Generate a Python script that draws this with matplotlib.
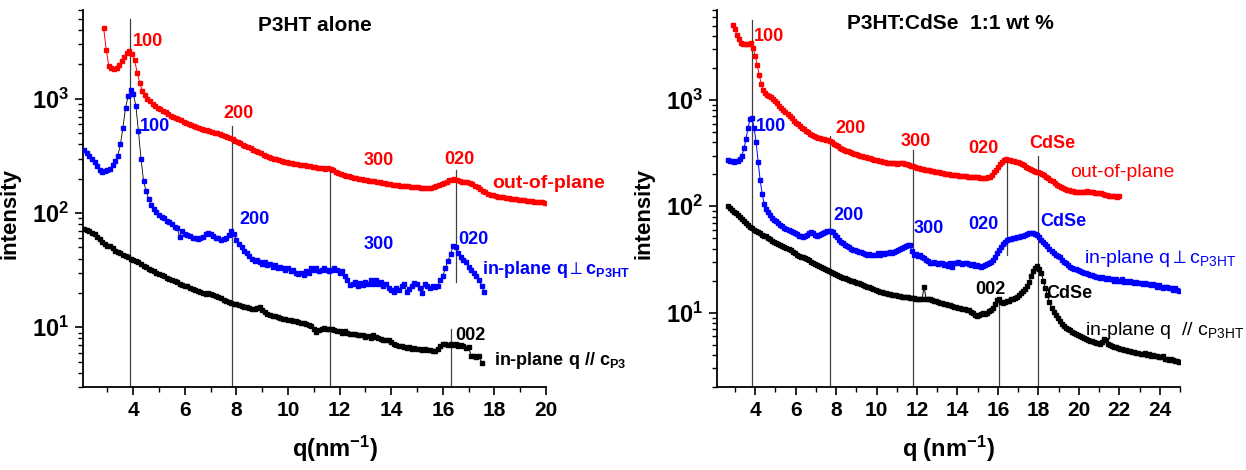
## GIWAXS line cuts: P3HT alone vs P3HT:CdSe blend

import numpy as np
import matplotlib
matplotlib.use('Agg')
import matplotlib.pyplot as plt
from matplotlib.ticker import MultipleLocator, LogLocator, NullFormatter

plt.rcParams['font.family'] = ['Liberation Sans', 'DejaVu Sans']
plt.rcParams['mathtext.fontset'] = 'custom'
plt.rcParams['mathtext.rm'] = 'Liberation Sans'
plt.rcParams['mathtext.bf'] = 'Liberation Sans:bold'
plt.rcParams['mathtext.it'] = 'Liberation Sans:italic'
plt.rcParams['mathtext.fallback'] = 'stixsans'

## Data (q grid: start + 0.1 steps)
q_step = 0.1

# P3HT alone, out-of-plane
left_red_q0 = 2.85
left_red = [4200, 2700, 1950, 1860, 1840, 1880, 1980, 2150, 2350, 2520, 2600, 2450, 2200, 1700, 1380,
            1180, 1080, 1000, 950, 905, 870, 840, 810, 785, 760, 735, 715, 700, 680, 665, 650, 632, 615,
            600, 590, 578, 565, 555, 545, 538, 530, 522, 512, 505, 498, 490, 482, 472, 462, 455, 445,
            432, 420, 408, 398, 388, 378, 368, 358, 350, 340, 333, 325, 318, 312, 305, 300, 295, 290,
            286, 282, 278, 275, 272, 270, 268, 266, 264, 261, 258, 256, 254, 252, 250, 248, 246, 245,
            246, 242, 236, 230, 225, 221, 217, 213, 210, 207, 204, 202, 200, 198, 196, 194, 192, 191,
            190, 188, 186, 184, 182, 180, 179, 177, 176, 175, 174, 173, 172, 171, 170, 170, 169, 168,
            167, 167, 166, 166, 167, 169, 172, 175, 179, 184, 189, 193, 196, 197, 195, 192, 189, 187,
            186, 184, 180, 174, 168, 162, 157, 152, 148, 145, 143, 141, 139, 138, 137, 136, 135, 134,
            133, 132, 131, 130, 129, 128, 128, 127, 126, 125, 125, 124, 123]

# P3HT alone, in-plane q perpendicular to c
left_blue_q0 = 2.1
left_blue = [360, 335, 315, 300, 280, 258, 238, 230, 232, 236, 245, 262, 285, 315, 400, 560, 840, 1050,
             1200, 1110, 870, 520, 300, 190, 155, 132, 118, 108, 102, 97, 93, 90, 86, 84, 80, 76, 74,
             62, 70, 66, 64, 63, 60, 61, 59, 60, 62, 66, 67, 66, 63, 61, 60, 58, 59, 61, 64, 70, 66,
             58, 54, 50, 47, 45, 42, 40, 38, 39, 37, 36, 37, 35, 36, 34, 35, 33, 34, 33, 32, 33, 31,
             32, 30, 29, 30, 28.5, 31, 30, 33, 32, 33, 31, 32, 33, 32, 31, 32, 33, 32, 30, 31, 28, 26,
             23.5, 24, 25, 23, 24.5, 23.5, 25, 24, 26, 24, 26, 24, 25, 23, 24, 22, 21, 20.5, 22, 21,
             23, 24, 20.5, 21.5, 23, 24.5, 24, 22, 20, 24, 23, 22, 23, 22.5, 23, 26, 28, 33, 38, 44,
             51, 50, 45, 41, 39, 37, 34, 32, 30, 28, 26, 23, 20.5]

# P3HT alone, in-plane q parallel to c
left_black_q0 = 2.1
left_black = [73, 71, 70, 67, 65, 62, 59, 56, 54, 52, 51, 49, 47, 46, 45, 43, 42, 41, 40, 39, 38, 37,
              35.5, 34.5, 33.5, 32.5, 31.8, 31, 30, 29.5, 28.5, 28, 27, 26.5, 26, 25.3, 24.7, 24, 23.6,
              23.2, 22.8, 22.3, 21.8, 21.4, 20.8, 20.3, 19.8, 19.6, 19.9, 19.4, 19, 18.7, 18.5, 18,
              17.5, 17.1, 16.8, 16.4, 16.1, 15.9, 15.7, 15.5, 15.2, 15, 14.8, 14.6, 14.4, 14.8, 15.2,
              14.2, 13.6, 13.2, 12.9, 12.6, 12.5, 12.3, 12.1, 11.9, 11.8, 11.6, 11.5, 11.3, 11.3, 11.1,
              11.0, 10.8, 10.6, 10.4, 10.2, 9.6, 9.1, 9.5, 9.7, 9.8, 9.7, 9.75, 9.6, 9.5, 9.3, 9.2, 9.0,
              9.3, 8.9, 8.8, 8.7, 8.8, 8.6, 8.5, 8.5, 8.3, 8.4, 8.1, 8.6, 8.2, 8.0, 7.9, 7.8, 7.7, 7.7,
              7.5, 7.2, 7.0, 6.9, 6.8, 6.7, 6.6, 6.7, 6.5, 6.6, 6.4, 6.5, 6.3, 6.4, 6.3, 6.3, 6.2, 6.2,
              6.4, 6.9, 7.2, 7.1, 7.0, 7.2, 7.0, 7.1, 6.9, 7.0, 6.8, 6.6, 6.7, 5.6, 5.6, 5.5, 5.6, 4.9]

# P3HT:CdSe, out-of-plane
right_red_q0 = 2.9
right_red = [5100, 4600, 4100, 3700, 3450, 3350, 3330, 3350, 3350, 3400, 3100, 2600, 2150, 1720, 1420,
             1250, 1170, 1120, 1085, 1060, 1020, 975, 930, 885, 840, 806, 770, 735, 700, 670, 640, 612,
             590, 568, 548, 528, 510, 495, 482, 470, 460, 450, 442, 436, 430, 426, 422, 418, 414, 400,
             388, 376, 366, 356, 348, 340, 334, 328, 322, 316, 312, 308, 304, 300, 296, 293, 290, 286,
             282, 278, 274, 270, 267, 264, 261, 258, 256, 255, 254, 255, 253, 252, 253, 254, 253, 251,
             248, 244, 240, 237, 234, 231, 228, 225, 223, 221, 219, 217, 215, 213, 211, 210, 208, 206,
             204, 202, 200, 199, 198, 197, 196, 195, 194, 193, 192, 191, 190, 190, 189, 188, 188, 187,
             186, 185, 185, 186, 187, 190, 198, 208, 220, 234, 248, 260, 270, 276, 274, 270, 268, 266,
             262, 258, 254, 248, 242, 236, 230, 224, 218, 213, 210, 208, 205, 200, 195, 190, 185, 178,
             171, 165, 160, 156, 152, 149, 146, 143, 141, 139, 138, 137, 136, 136, 135, 136, 137, 138,
             137, 136, 135, 134, 133, 133, 132, 130, 128, 127, 126, 125, 124, 124, 123, 125]

# P3HT:CdSe, in-plane q perpendicular to c
right_blue_q0 = 2.65
right_blue = [275, 268, 264, 262, 264, 268, 280, 300, 350, 430, 550, 660, 680, 540, 400, 260, 175, 130,
              105, 94, 88, 82, 78, 75, 72, 69, 67, 65, 63, 61, 60, 58, 57, 56, 55, 53, 52, 51, 52, 54,
              56, 57, 56, 54, 53, 54, 55, 56, 57, 58, 59, 59, 57, 54, 51, 48, 46, 45, 43, 42, 41, 40,
              39, 38.5, 38, 37.5, 37, 36, 35.5, 35, 35.5, 34.5, 35, 35, 36, 35, 36, 35.5, 36.5, 36, 37,
              36.5, 37.5, 38, 39, 39.5, 40.5, 41, 42, 43.5, 43, 38, 35, 35.5, 34, 34.5, 33.5, 32.5, 31,
              30.5, 29.5, 29, 30, 29, 28.5, 29.5, 29, 28, 28.5, 27.5, 29, 27, 29.5, 29, 30, 29.5, 28.5,
              29, 29.5, 28.5, 28, 28.5, 27.5, 28, 27.5, 27, 27.5, 28, 28.5, 29, 30, 31.5, 33.5, 36,
              38.5, 41.5, 44, 46.5, 48, 49, 49.5, 50, 50.5, 51, 51.5, 52, 53, 54, 55, 55.5, 56, 55.5,
              55, 54, 51, 48.5, 46, 44, 42, 40, 38, 36.5, 35, 34, 33, 31.5, 30, 29, 28, 27, 26.5, 26,
              25.5, 25, 24.5, 24, 23.5, 23.5, 23, 22.5, 22.5, 22, 21.5, 21.5, 21, 21.5, 21, 20.5, 21,
              20.5, 20.5, 20, 20.5, 20, 20, 20.5, 19.5, 20, 19.5, 20, 19.5, 19, 19.5, 19, 19, 18.5, 19,
              18.5, 18.5, 18, 18.5, 18, 17.5, 18, 17.5, 17, 17.5, 17.5, 17, 17, 16.5, 17, 16.5, 16]

# P3HT:CdSe, in-plane q parallel to c
right_black_q0 = 2.65
right_black = [100, 96, 92, 89, 86, 83, 80, 76, 73, 70, 67, 64, 62, 60, 58.5, 57, 55.5, 54, 53, 52,
               50.5, 49, 47.5, 46.5, 45.5, 44.5, 43.5, 42.5, 41.5, 40.5, 39.5, 38.5, 37.5, 36.5, 35,
               34.2, 33.5, 33, 32.3, 31.6, 31, 30.2, 29.5, 28.8, 28.2, 27.5, 26.8, 26.2, 25.6, 25, 24.5,
               24, 23.5, 23, 22.6, 22.2, 21.8, 21.4, 21.1, 20.8, 20.4, 20, 19.7, 19.4, 19.1, 18.8, 18.5,
               18.2, 17.9, 17.6, 17.3, 17, 16.7, 16.4, 16.1, 15.8, 15.6, 15.4, 15.2, 15.1, 15, 14.8,
               14.7, 14.5, 14.4, 14.2, 14.1, 14, 14, 13.9, 13.8, 13.7, 13.7, 13.5, 13.4, 13.4, 13.3,
               17.5, 13.5, 13.4, 13.3, 13.2, 13, 12.8, 12.6, 12.4, 12.2, 12.1, 12, 11.9, 11.8, 11.6,
               11.4, 11.2, 11.1, 11, 10.9, 10.8, 10.7, 10.5, 10.2, 10, 9.6, 9.3, 9.6, 9.8, 9.9, 9.8, 9.9,
               10.3, 10.6, 11.1, 12, 13.2, 13.5, 12.6, 12.2, 12.5, 12.8, 13, 13.3, 13.5, 13.7, 14, 14.6,
               15.3, 16, 16.8, 17.8, 19.5, 22, 24.5, 26.5, 27.5, 26, 23.5, 20, 17, 14.5, 12.5, 11, 10.2,
               9.5, 8.9, 8.3, 7.9, 7.5, 7.2, 7, 6.8, 6.6, 6.4, 6.3, 6.1, 6, 5.9, 5.8, 5.6, 5.5, 5.4, 5.4,
               5.3, 5.2, 5.2, 5.1, 5.3, 5.7, 5.5, 5.1, 5, 4.9, 4.8, 4.8, 4.7, 4.6, 4.6, 4.5, 4.5, 4.4,
               4.4, 4.3, 4.3, 4.2, 4.2, 4.1, 4.1, 4.2, 4, 4.1, 3.9, 4, 3.9, 3.9, 3.8, 3.8, 3.9, 3.7, 3.7,
               3.6, 3.7, 3.6, 3.5, 3.5, 3.4]

# Reflection marker lines: q position, top and bottom intensity
left_lines_q = [3.88, 7.82, 11.62, 16.5, 16.32]
left_lines_top = [5000, 580, 255, 238, 9.7]
left_lines_bottom = [3, 3, 3, 25, 3]
right_lines_q = [3.84, 7.68, 11.82, 16.47, 18.0, 16.06]
right_lines_top = [5600, 460, 340, 275, 295, 13.7]
right_lines_bottom = [2, 2, 2, 35, 2, 2]


def q_grid(q0, values):
    return q0 + q_step * np.arange(len(values))


def style_axis(ax, xmin, xmax, ymin, ymax, xmaj_max):
    ax.set_yscale('log')
    ax.set_xlim(xmin, xmax)
    ax.set_ylim(ymin, ymax)
    ax.spines['top'].set_visible(False)
    ax.spines['right'].set_visible(False)
    for s in ('left', 'bottom'):
        ax.spines[s].set_linewidth(1.3)
    ax.xaxis.set_minor_locator(MultipleLocator(1))
    ax.set_xticks(np.arange(4, xmaj_max + 1, 2))
    ax.set_xticklabels([str(v) for v in np.arange(4, xmaj_max + 1, 2)], fontsize=15, fontweight='bold')
    ax.set_yticks([10, 100, 1000])
    ax.set_yticklabels([r'$\mathbf{10^{1}}$', r'$\mathbf{10^{2}}$', r'$\mathbf{10^{3}}$'], fontsize=17)
    ax.yaxis.set_minor_locator(LogLocator(base=10, subs=np.arange(2, 10)))
    ax.yaxis.set_minor_formatter(NullFormatter())
    ax.tick_params(which='major', direction='out', length=6, width=1.2, pad=4)
    ax.tick_params(which='minor', direction='out', length=3.5, width=1.0)
    ax.set_ylabel('intensity', fontsize=16, fontweight='bold')
    ax.yaxis.set_label_coords(-0.135, 0.46)


fig = plt.figure(figsize=(12.46, 4.7), dpi=100)
ax1 = fig.add_axes([0.0666, 0.1766, 0.3716, 0.8021])
ax2 = fig.add_axes([0.5752, 0.1766, 0.3718, 0.8021])

ms = 3.5

## Left: P3HT alone
for q, top, bot in zip(left_lines_q, left_lines_top, left_lines_bottom):
    ax1.plot([q, q], [bot, top], color='0.25', lw=0.9, zorder=1)
ax1.plot(q_grid(left_red_q0, left_red), left_red, 's-', color='red', ms=ms, lw=0.7, zorder=3)
ax1.plot(q_grid(left_blue_q0, left_blue), left_blue, '-', color='k', lw=0.6, zorder=2)
ax1.plot(q_grid(left_blue_q0, left_blue), left_blue, 's', color='blue', ms=ms, zorder=3)
ax1.plot(q_grid(left_black_q0, left_black), left_black, 's-', color='black', ms=ms, lw=0.7, zorder=3)
style_axis(ax1, 2.05, 20, 3, 6000, 20)
ax1.set_xlabel(r'q(nm$^{\mathbf{-1}}$)', fontsize=17, fontweight='bold')
ax1.xaxis.set_label_coords(0.545, -0.125)
ax1.text(0.5, 0.96, 'P3HT alone', transform=ax1.transAxes, ha='center', va='center',
         fontsize=15, fontweight='bold')

bold = dict(fontsize=13, fontweight='bold', va='center')
ax1.text(4.0, 3200, '100', color='red', ha='left', **bold)
ax1.text(8.09, 740, '200', color='red', ha='center', **bold)
ax1.text(13.51, 287, '300', color='red', ha='center', **bold)
ax1.text(16.63, 296, '020', color='red', ha='center', **bold)
ax1.text(17.93, 182, 'out-of-plane', color='red', ha='left', va='center', fontsize=14, fontweight='bold')
ax1.text(4.24, 578, '100', color='blue', ha='left', **bold)
ax1.text(8.1, 88, '200', color='blue', ha='left', **bold)
ax1.text(13.51, 52.7, '300', color='blue', ha='center', **bold)
ax1.text(16.6, 58.5, '020', color='blue', ha='left', **bold)
ax1.text(17.5, 29.3, r'in-plane q$\perp$c$_{\mathbf{P3HT}}$', color='blue', ha='left', va='baseline',
         fontsize=13, fontweight='bold')
ax1.text(16.47, 8.5, '002', color='black', ha='left', **bold)
ax1.text(18.0, 4.7, r'in-plane q // c$_{\mathbf{P3}}$', color='black', ha='left', va='baseline',
         fontsize=13, fontweight='bold')

## Right: P3HT:CdSe blend
for q, top, bot in zip(right_lines_q, right_lines_top, right_lines_bottom):
    ax2.plot([q, q], [bot, top], color='0.25', lw=0.9, zorder=1)
ax2.plot(q_grid(right_red_q0, right_red), right_red, 's-', color='red', ms=ms, lw=0.7, zorder=3)
ax2.plot(q_grid(right_blue_q0, right_blue), right_blue, 's-', color='blue', ms=ms, lw=0.7, zorder=3)
ax2.plot(q_grid(right_black_q0, right_black), right_black, 's-', color='black', ms=ms, lw=0.7, zorder=3)
style_axis(ax2, 2.1, 25, 2, 7000, 24)
ax2.set_xlabel(r'q (nm$^{\mathbf{-1}}$)', fontsize=17, fontweight='bold')
ax2.xaxis.set_label_coords(0.501, -0.125)
ax2.text(0.504, 0.964, 'P3HT:CdSe  1:1 wt %', transform=ax2.transAxes, ha='center', va='center',
         fontsize=15, fontweight='bold')

ax2.text(3.92, 3930, '100', color='red', ha='left', **bold)
ax2.text(7.95, 542, '200', color='red', ha='left', **bold)
ax2.text(11.2, 406, '300', color='red', ha='left', **bold)
ax2.text(14.54, 349, '020', color='red', ha='left', **bold)
ax2.text(17.54, 392, 'CdSe', color='red', ha='left', **bold)
ax2.text(19.56, 208, 'out-of-plane', color='red', ha='left', va='center', fontsize=14)
ax2.text(4.05, 562, '100', color='blue', ha='left', **bold)
ax2.text(7.87, 81.8, '200', color='blue', ha='left', **bold)
ax2.text(11.82, 62, '300', color='blue', ha='left', **bold)
ax2.text(14.54, 67, '020', color='blue', ha='left', **bold)
ax2.text(18.1, 72, 'CdSe', color='blue', ha='left', **bold)
ax2.text(20.25, 29.3, r'in-plane q$\perp$c$_{\mathrm{P3HT}}$', color='blue', ha='left', va='baseline',
         fontsize=14)
ax2.text(14.87, 16.4, '002', color='black', ha='left', **bold)
ax2.text(18.41, 15.3, 'CdSe', color='black', ha='left', **bold)
ax2.text(20.3, 6.2, r'in-plane q  // c$_{\mathrm{P3HT}}$', color='black', ha='left', va='baseline',
         fontsize=14)

fig.savefig('out.png', dpi=100)
